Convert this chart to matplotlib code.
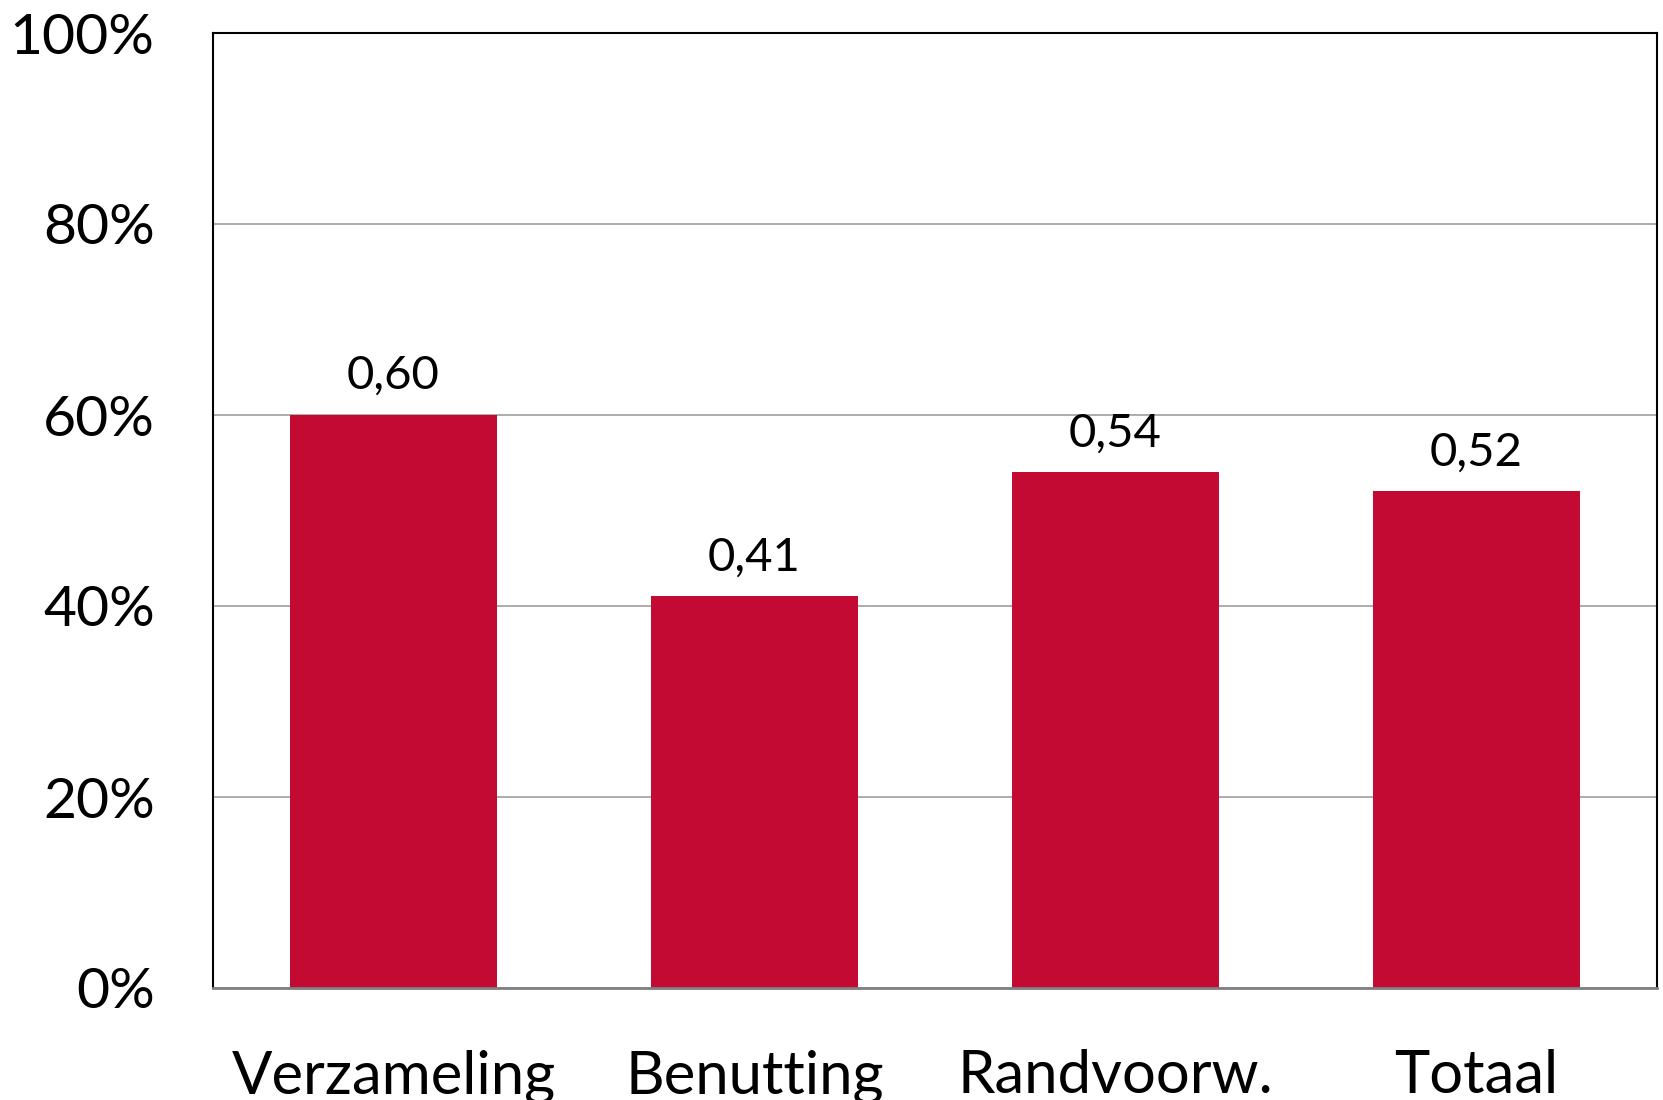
import matplotlib.pyplot as plt
from matplotlib.ticker import PercentFormatter

# Data
categories = ['Verzameling', 'Benutting', 'Randvoorw.', 'Totaal']
values = [0.60, 0.41, 0.54, 0.52]
value_labels = ['0,60', '0,41', '0,54', '0,52']
y_ticks = [0.0, 0.2, 0.4, 0.6, 0.8, 1.0]

BAR_COLOR = '#C30A32'
GRID_COLOR = '#A6A6A6'

plt.rcParams['font.family'] = ['Lato', 'DejaVu Sans']

fig = plt.figure(figsize=(16.63, 11.0), dpi=100)
ax = fig.add_axes([213 / 1663, 1 - 988 / 1100, (1657 - 213) / 1663, (988 - 33) / 1100])

x = range(len(categories))
bars = ax.bar(x, values, width=0.573, color=BAR_COLOR, zorder=3)

# value labels above the bars (comma decimals, as in the original)
for xi, v, lab in zip(x, values, value_labels):
    ax.annotate(lab, (xi, v), xytext=(0, 28), textcoords='offset points',
                ha='center', va='center', fontsize=34, color='black')

ax.set_xlim(-0.5, len(categories) - 0.5)
ax.set_ylim(0, 1)
ax.set_yticks(y_ticks)
ax.yaxis.set_major_formatter(PercentFormatter(1.0, decimals=0))
ax.set_xticks(list(x))
ax.set_xticklabels(categories)

ax.tick_params(axis='y', length=0, labelsize=41, pad=42)
ax.tick_params(axis='x', length=0, labelsize=43, pad=44)

ax.grid(axis='y', color=GRID_COLOR, linewidth=1.3, zorder=0)
for side in ['left', 'top', 'right']:
    ax.spines[side].set_color('black')
    ax.spines[side].set_linewidth(1.5)
ax.spines['bottom'].set_color('#808080')
ax.spines['bottom'].set_linewidth(2)
ax.spines['bottom'].set_zorder(4)

fig.savefig('out.png', dpi=100)
